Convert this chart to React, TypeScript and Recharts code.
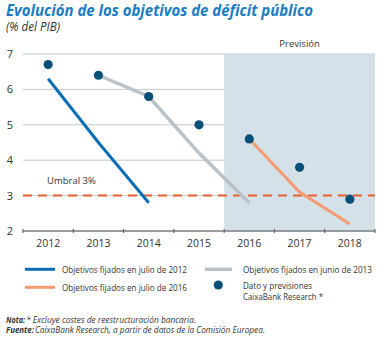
import React from 'react';
import { ComposedChart, Line, XAxis, YAxis, CartesianGrid, ReferenceArea, ReferenceLine } from 'recharts';

const categories = ['2012', '2013', '2014', '2015', '2016', '2017', '2018'];
const julio2012 = [6.3, 4.5, 2.8, null, null, null, null];
const junio2013 = [null, 6.4, 5.8, 4.2, 2.8, null, null];
const julio2016 = [null, null, null, null, 4.6, 3.1, 2.2];
const caixaBank = [6.7, 6.4, 5.8, 5.0, 4.6, 3.8, 2.9];
const yTicks = [2, 3, 4, 5, 6, 7];
const umbral = 3;
const previsionStart = '2016';
const previsionEnd = '2018';

const data = categories.map((c, i) => ({
  year: c,
  j2012: julio2012[i],
  j2013: junio2013[i],
  j2016: julio2016[i],
  caixa: caixaBank[i],
}));

const W = 384;
const H = 255;
const MARGIN = { top: 54, right: 9, left: 0, bottom: 0 };
const Y_W = 23;
const PLOT_W = W - MARGIN.left - MARGIN.right - Y_W;
const BAND = PLOT_W / categories.length;

const FONT = '"Open Sans", "Noto Sans", sans-serif';
const TXT = '#333';

const XTick = (props: any) => {
  const { x, y, payload, index } = props;
  const half = BAND / 2;
  return (
    <g>
      <line x1={x - half} x2={x - half} y1={y - 2} y2={y + 2} stroke="#555" strokeWidth={1} />
      {index === categories.length - 1 && (
        <line x1={x + half} x2={x + half} y1={y - 2} y2={y + 2} stroke="#555" strokeWidth={1} />
      )}
      <text x={x} y={y + 16} textAnchor="middle" fontSize={10.5} fill={TXT} fontFamily={FONT}>
        {payload.value}
      </text>
    </g>
  );
};

const UmbralLabel = (props: any) => {
  const vb = props.viewBox || {};
  return (
    <text x={vb.x + 24} y={vb.y - 12} fontSize={9.5} fill={TXT} fontFamily={FONT}>
      Umbral 3%
    </text>
  );
};

const PrevLabel = (props: any) => {
  const vb = props.viewBox || {};
  return (
    <text x={vb.x + vb.width / 2} y={vb.y - 7.5} textAnchor="middle" fontSize={9.5} fill={TXT} fontFamily={FONT}>
      Previsión
    </text>
  );
};

export default function App() {
  return (
    <div style={{ position: 'absolute', left: 0, top: 0, width: W, height: 338, background: '#fff', fontFamily: FONT }}>
      <div style={{ position: 'absolute', left: 0, top: 0 }}>
        <ComposedChart width={W} height={H} data={data} margin={MARGIN}>
          <ReferenceArea x1={previsionStart} x2={previsionEnd} fill="#d4e1e8" fillOpacity={1} stroke="none" label={<PrevLabel />} />
          <CartesianGrid vertical={false} stroke="#c3c9cd" strokeWidth={1} />
          <XAxis
            dataKey="year"
            scale="band"
            height={H - MARGIN.top - 177}
            axisLine={{ stroke: '#555', strokeWidth: 1 }}
            tickLine={false}
            tickSize={0}
            tickMargin={0}
            tick={<XTick />}
            interval={0}
          />
          <YAxis
            width={Y_W}
            domain={[2, 7]}
            ticks={yTicks}
            axisLine={false}
            tickLine={false}
            tickMargin={4}
            tick={{ fill: TXT, fontSize: 11, fontFamily: FONT }}
          />
          <ReferenceLine y={umbral} stroke="#e5602a" strokeWidth={2} strokeDasharray="9 6" label={<UmbralLabel />} />
          <Line dataKey="j2012" stroke="#0b6eb5" strokeWidth={3} dot={false} isAnimationActive={false} />
          <Line dataKey="j2013" stroke="#b9c3c7" strokeWidth={3.5} dot={false} isAnimationActive={false} />
          <Line dataKey="j2016" stroke="#f59b72" strokeWidth={3} dot={false} isAnimationActive={false} />
          <Line dataKey="caixa" stroke="none" strokeWidth={0} dot={{ r: 4.6, fill: '#0a4f78', stroke: 'none' }} isAnimationActive={false} />
        </ComposedChart>
      </div>
      <svg width={W} height={338} style={{ position: 'absolute', left: 0, top: 0, pointerEvents: 'none' }}>
        <text x={6} y={15.8} fontSize={16.5} fontWeight={700} fontStyle="italic" fill="#1a7dc4" fontFamily={FONT} textLength={307} lengthAdjust="spacingAndGlyphs">
          Evolución de los objetivos de déficit público
        </text>
        <text x={6} y={31} fontSize={12} fontStyle="italic" fill={TXT} fontFamily={FONT} textLength={54} lengthAdjust="spacingAndGlyphs">
          (% del PIB)
        </text>

        <line x1={25} x2={55} y1={269.3} y2={269.3} stroke="#0b6eb5" strokeWidth={3} />
        <text x={62} y={272.5} fontSize={9.5} fill={TXT} fontFamily={FONT} textLength={125} lengthAdjust="spacingAndGlyphs">
          Objetivos fijados en julio de 2012
        </text>
        <line x1={205} x2={232} y1={269.3} y2={269.3} stroke="#b9c3c7" strokeWidth={3.5} />
        <text x={243} y={272.5} fontSize={9.5} fill={TXT} fontFamily={FONT} textLength={129} lengthAdjust="spacingAndGlyphs">
          Objetivos fijados en  junio de 2013
        </text>
        <line x1={25} x2={55} y1={287.3} y2={287.3} stroke="#f59b72" strokeWidth={3} />
        <text x={62} y={290.5} fontSize={9.5} fill={TXT} fontFamily={FONT} textLength={125} lengthAdjust="spacingAndGlyphs">
          Objetivos fijados en julio de 2016
        </text>
        <circle cx={218.3} cy={285} r={4.6} fill="#0a4f78" />
        <text x={243} y={288.6} fontSize={9} fill={TXT} fontFamily={FONT} textLength={69} lengthAdjust="spacingAndGlyphs">
          Dato y previsiones
        </text>
        <text x={243} y={300.4} fontSize={9} fill={TXT} fontFamily={FONT} textLength={80} lengthAdjust="spacingAndGlyphs">
          CaixaBank Research *
        </text>

        <text x={6} y={322.6} fontSize={8.5} fontWeight={700} fontStyle="italic" fill={TXT} fontFamily={FONT} textLength={19} lengthAdjust="spacingAndGlyphs">
          Nota:
        </text>
        <text x={26} y={322.6} fontSize={8.5} fontStyle="italic" fill={TXT} fontFamily={FONT} textLength={170} lengthAdjust="spacingAndGlyphs">
          * Excluye costes de reestructuración bancaria.
        </text>
        <text x={6} y={332.6} fontSize={8.5} fontWeight={700} fontStyle="italic" fill={TXT} fontFamily={FONT} textLength={28} lengthAdjust="spacingAndGlyphs">
          Fuente:
        </text>
        <text x={35} y={332.6} fontSize={8.5} fontStyle="italic" fill={TXT} fontFamily={FONT} textLength={230} lengthAdjust="spacingAndGlyphs">
          CaixaBank Research, a partir de datos de la Comisión Europea.
        </text>
      </svg>
    </div>
  );
}
